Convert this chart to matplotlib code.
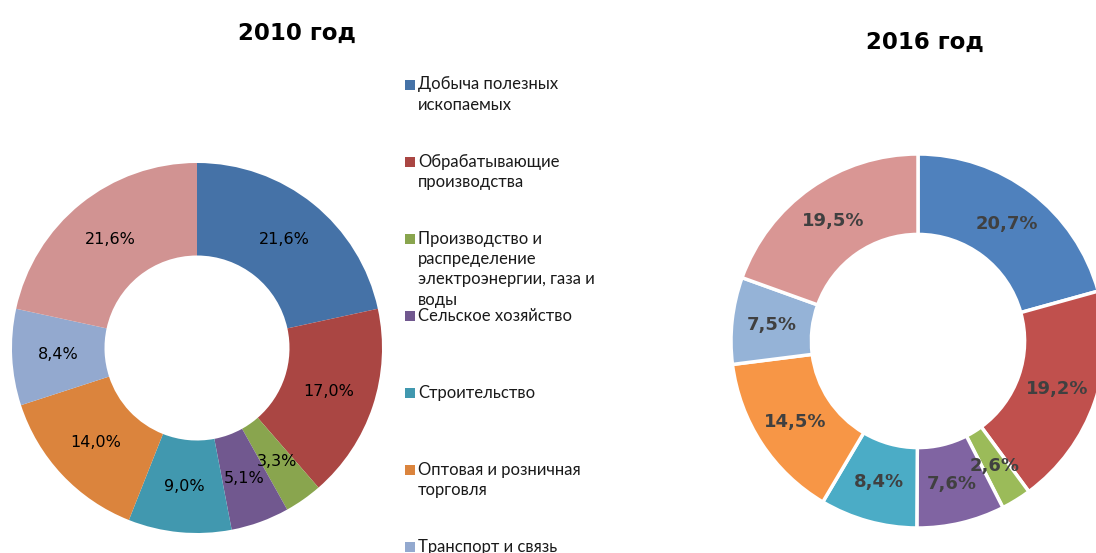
import matplotlib
matplotlib.use("Agg")
import matplotlib.pyplot as plt
from matplotlib.patches import Rectangle

# data
categories = ["Добыча полезных\nископаемых",
              "Обрабатывающие\nпроизводства",
              "Производство и\nраспределение\nэлектроэнергии, газа и\nводы",
              "Сельское хозяйство",
              "Строительство",
              "Оптовая и розничная\nторговля",
              "Транспорт и связь",
              "Прочие"]
share_2010 = [21.6, 17.0, 3.3, 5.1, 9.0, 14.0, 8.4, 21.6]
share_2016 = [20.7, 19.2, 2.6, 7.6, 8.4, 14.5, 7.5, 19.5]

colors_2010 = ["#4572A7", "#AA4643", "#89A54E", "#71588F",
               "#4198AF", "#DB843D", "#93A9CF", "#D19392"]
colors_2016 = ["#4F81BD", "#C0504D", "#9BBB59", "#8064A2",
               "#4BACC6", "#F79646", "#95B3D7", "#D99694"]

W, H = 1096, 553
fig = plt.figure(figsize=(W / 100, H / 100), dpi=100)


def donut_axes(cx, cy, r):
    # axes placed in pixel coords (y from top)
    return fig.add_axes([(cx - r) / W, 1 - (cy + r) / H, 2 * r / W, 2 * r / H])


def fix_limits(ax):
    ax.set_xlim(-1, 1)
    ax.set_ylim(-1, 1)
    ax.axis("off")


def fmt(p):
    return f"{p:.1f}%".replace(".", ",")


# 2010
ax1 = donut_axes(197, 348, 185)
w1, t1, a1 = ax1.pie(share_2010, colors=colors_2010, startangle=90, counterclock=False,
                     radius=1, autopct=fmt, pctdistance=0.75,
                     wedgeprops=dict(width=0.5, linewidth=0))
fix_limits(ax1)
for t in a1:
    t.set_fontsize(11.5)
    t.set_color("black")

# 2016
ax2 = donut_axes(918, 341, 187)
w2, t2, a2 = ax2.pie(share_2016, colors=colors_2016, startangle=90, counterclock=False,
                     radius=1, autopct=fmt, pctdistance=0.785,
                     wedgeprops=dict(width=0.43, edgecolor="white", linewidth=2.5))
fix_limits(ax2)
for t in a2:
    t.set_fontsize(13)
    t.set_fontweight("bold")
    t.set_color("#404040")

# overlay in pixel coords for titles + legend
lax = fig.add_axes([0, 0, 1, 1])
lax.set_xlim(0, W)
lax.set_ylim(H, 0)
lax.axis("off")
lax.patch.set_alpha(0)

lax.text(297, 39.5, "2010 год", fontsize=16.5, fontweight="bold", ha="center", va="baseline")
lax.text(925, 48.5, "2016 год", fontsize=16.5, fontweight="bold", ha="center", va="baseline")

for i, (lab, col) in enumerate(zip(categories, colors_2010)):
    yb = 89.5 + 77.1 * i
    lax.add_patch(Rectangle((405, yb - 10), 10, 10, facecolor=col, edgecolor="none"))
    lax.text(418, yb - 13, lab, fontsize=12, family=["Lato", "DejaVu Sans"], color="#1a1a1a",
             ha="left", va="top", linespacing=1.33)

fig.savefig("out.png", dpi=100)
